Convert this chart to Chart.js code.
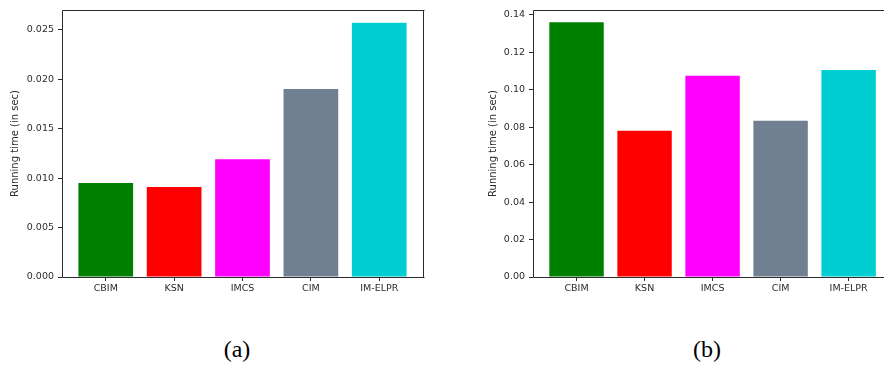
<!DOCTYPE html>
<html>
<head>
<meta charset="utf-8">
<script src="https://cdn.jsdelivr.net/npm/chart.js@4.4.0/dist/chart.umd.min.js"></script>
<style>
  html, body { margin: 0; padding: 0; background: #fff; overflow: hidden; width: 884px; height: 366px; }
  .box { position: absolute; top: 0; height: 300px; }
  .cap { position: absolute; top: 336px; font-family: "Liberation Serif", serif; font-size: 24px; color: #000; transform: translateX(-50%); }
</style>
</head>
<body>
<div class="box" style="left:0px; width:440px"><canvas id="chartA" width="440" height="300"></canvas></div>
<div class="box" style="left:478px; width:406px"><canvas id="chartB" width="406" height="300"></canvas></div>
<div class="cap" style="left:237px">(a)</div>
<div class="cap" style="left:707px">(b)</div>
<script>
// algorithms compared
var methods = ['CBIM', 'KSN', 'IMCS', 'CIM', 'IM-ELPR'];
var barColors = ['#008000', '#ff0000', '#ff00ff', '#708090', '#00ced1'];

// running time (sec)
var timesA = [0.0095, 0.0091, 0.0119, 0.0190, 0.0257];
var timesB = [0.136, 0.078, 0.1074, 0.0834, 0.1105];

// y tick labels
var yTicksA = [0, 0.005, 0.010, 0.015, 0.020, 0.025];
var yTicksB = [0, 0.02, 0.04, 0.06, 0.08, 0.10, 0.12, 0.14];

var ink = '#2b2b2b';
var tickFont = { family: 'DejaVu Sans', size: 9.5 };
var titleFont = { family: 'DejaVu Sans', size: 10 };

// matplotlib-like box around the plot area (panel b is cut off on the right)
var frame = {
    id: 'frame',
    afterDraw: function(chart, args, opts) {
        var a = chart.chartArea, c = chart.ctx;
        var l = Math.round(a.left) + 0.5, t = Math.round(a.top) + 0.5;
        var r = Math.round(a.right) + 0.5, b = Math.round(a.bottom) + 0.5;
        c.save();
        c.strokeStyle = ink;
        c.lineWidth = 1;
        c.beginPath();
        c.moveTo(r + 1, t); c.lineTo(l, t); c.lineTo(l, b); c.lineTo(r + 1, b);
        if (opts.right) { c.moveTo(r, t); c.lineTo(r, b); }
        c.stroke();
        c.restore();
    }
};

function makeChart(id, values, yTicks, yMax, digits, yWidth, xMax, padRight, rightSpine) {
    var ctx = document.getElementById(id).getContext('2d');
    return new Chart(ctx, {
        type: 'bar',
        data: {
            datasets: [{
                data: values.map(function(v, i) { return { x: i, y: v }; }),
                backgroundColor: barColors,
                borderWidth: 0,
                barPercentage: 1,
                categoryPercentage: 0.8
            }]
        },
        options: {
            responsive: false,
            animation: false,
            devicePixelRatio: 1,
            layout: { padding: { top: 10, right: padRight, left: 0, bottom: 0 } },
            plugins: {
                legend: { display: false },
                tooltip: { enabled: false },
                frame: { right: rightSpine }
            },
            scales: {
                x: {
                    type: 'linear',
                    min: -0.64,
                    max: xMax,
                    offset: false,
                    afterBuildTicks: function(s) {
                        s.ticks = methods.map(function(m, i) { return { value: i }; });
                    },
                    afterFit: function(s) { s.height = 23; },
                    ticks: {
                        color: ink, font: tickFont, padding: 2, maxRotation: 0,
                        callback: function(v) { return methods[v]; }
                    },
                    grid: { offset: false, drawOnChartArea: false, drawTicks: true, tickLength: 4, color: ink },
                    border: { display: false }
                },
                y: {
                    min: 0,
                    max: yMax,
                    afterBuildTicks: function(s) {
                        s.ticks = yTicks.map(function(v) { return { value: v }; });
                    },
                    afterFit: function(s) { s.width = yWidth; },
                    ticks: {
                        color: ink, font: tickFont, padding: 4,
                        callback: function(v) { return v.toFixed(digits); }
                    },
                    grid: { drawOnChartArea: false, drawTicks: true, tickLength: 4, color: ink },
                    border: { display: false },
                    title: {
                        display: true,
                        text: 'Running time (in sec)',
                        color: ink,
                        font: titleFont,
                        padding: { top: 9, bottom: 0 }
                    }
                }
            }
        },
        plugins: [frame]
    });
}

makeChart('chartA', timesA, yTicksA, 0.027, 3, 62, 4.64, 17, true);
makeChart('chartB', timesB, yTicksB, 0.1425, 2, 55, 4.52, 0, false);
</script>
</body>
</html>
